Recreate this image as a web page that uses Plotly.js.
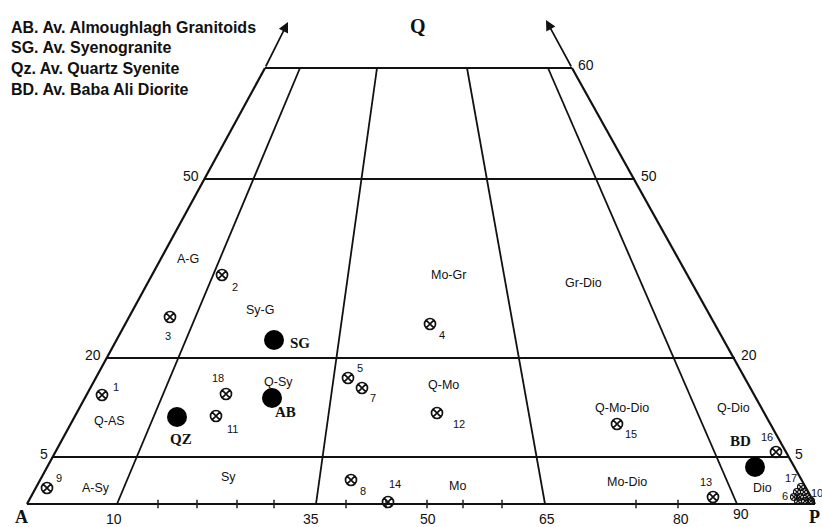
<!DOCTYPE html>
<html><head><meta charset="utf-8">
<script src="https://cdn.plot.ly/plotly-3.0.1.min.js"></script>
<style>html,body{margin:0;padding:0;background:#fff}#chart{width:822px;height:527px}</style>
</head><body><div id="chart"></div>
<script>
// ---- Diagram frame (diagram units) ----
const baseY = 504;
const qLevelLabels = ['5', '20', '50', '60'];
const qLevelY = [457, 358, 179, 68];
const qLeftX = [53, 106, 204, 265];
const qRightX = [789, 735, 635, 572];
const baseCorners = [27, 815];
const divLabels = ['10', '35', '65', '90'];
const divBaseX = [117, 316, 545, 737];
const divTopX = [300, 377, 467, 548];
const baseTickX = [158, 197, 237, 274, 346, 386, 427, 463, 502, 636, 678];
const baseLabels = ['10', '35', '50', '65', '80', '90'];
const baseLabelX = [114, 311, 428, 547, 681, 741];
const baseLabelY = [519, 519, 519, 519, 519, 514];

// ---- Field names ----
const fieldNames = ['A-G', 'Sy-G', 'Mo-Gr', 'Gr-Dio', 'Q-AS', 'Q-Sy', 'Q-Mo', 'Q-Mo-Dio', 'Q-Dio', 'A-Sy', 'Sy', 'Mo', 'Mo-Dio', 'Dio'];
const fieldX = [188, 260, 448, 583, 109, 278, 443, 622, 733, 96, 228, 457, 627, 762];
const fieldY = [259, 310, 275, 283, 421, 382, 385, 408, 408, 488, 477, 486, 482, 488];

// ---- Samples (⊗) ----
const sampleIds = ['1', '2', '3', '4', '5', '7', '18', '11', '12', '15', '16', '13', '8', '14', '9'];
const sampleX = [102, 222, 170, 430, 348, 362, 226, 216, 437, 617, 776, 713, 351, 388, 47];
const sampleY = [395, 275, 317, 324, 378, 388, 394, 416, 413, 424, 452, 497, 480, 502, 488];
const sampleLabelX = [116, 235, 168, 442, 360, 373, 218, 232, 459, 631, 767, 706, 363, 395, 59];
const sampleLabelY = [387, 287, 336, 335, 368, 398, 378, 429, 424, 434, 437, 482, 491, 484, 478];
// cluster of samples 6, 10, 17 near P corner
const clusterX = [801, 797, 804, 794, 800, 807, 798, 805, 811];
const clusterY = [487, 492, 492, 497, 497, 497, 501, 501, 501];
const clusterLabels = ['17', '6', '10'];
const clusterLabelX = [791, 785, 817];
const clusterLabelY = [478, 496, 493];

// ---- Averages (filled) ----
const avgNames = ['QZ', 'AB', 'SG', 'BD'];
const avgX = [177, 272, 274, 755];
const avgY = [417, 398, 340, 467];
const avgLabelX = [181, 285, 300, 740];
const avgLabelY = [439, 412, 343, 441];

const legendLines = ['AB. Av. Almoughlagh Granitoids', 'SG. Av. Syenogranite', 'Qz. Av. Quartz Syenite', 'BD. Av. Baba Ali Diorite'];

// ---- Build line segments ----
const lx = [], ly = [];
function seg(x0, y0, x1, y1) { lx.push(x0, x1, null); ly.push(y0, y1, null); }
seg(baseCorners[0], baseY, baseCorners[1], baseY);
seg(baseCorners[0], baseY, qLeftX[3], qLevelY[3]);
seg(baseCorners[1], baseY, qRightX[3], qLevelY[3]);
for (let i = 0; i < qLevelY.length; i++) seg(qLeftX[i], qLevelY[i], qRightX[i], qLevelY[i]);
const divX = [], divY = [];
for (let i = 0; i < divBaseX.length; i++) { divX.push(divBaseX[i], divTopX[i], null); divY.push(baseY, qLevelY[3], null); }

const traces = [
  {x: lx, y: ly, mode: 'lines', line: {color: '#111', width: 2.2}, hoverinfo: 'skip'},
  {x: divX, y: divY, mode: 'lines', line: {color: '#111', width: 1.8}, hoverinfo: 'skip'},
  {x: baseTickX, y: baseTickX.map(() => baseY), mode: 'markers', marker: {symbol: 'line-ns', size: 6, line: {color: '#222', width: 1.5}}, hoverinfo: 'skip'},
  {x: sampleX, y: sampleY, mode: 'markers', marker: {symbol: 'circle-x-open', size: 11, color: '#111', line: {color: '#111', width: 1.7}}, hoverinfo: 'skip'},
  {x: clusterX, y: clusterY, mode: 'markers', marker: {symbol: 'circle-x-open', size: 7, color: '#111', line: {color: '#111', width: 1.2}}, hoverinfo: 'skip'},
  {x: avgX, y: avgY, mode: 'markers', marker: {symbol: 'circle', size: 20, color: '#000'}, hoverinfo: 'skip'}
];

const ann = [];
function txt(t, x, y, size, family, extra) {
  ann.push(Object.assign({text: t, x: x, y: y, xref: 'x', yref: 'y', showarrow: false, font: {size: size, family: family, color: '#111'}}, extra || {}));
}
const sans = 'Liberation Sans, Arial, sans-serif';
const serif = 'Liberation Serif, Times New Roman, serif';
fieldNames.forEach((n, i) => txt(n, fieldX[i], fieldY[i], 12.5, sans));
sampleIds.forEach((n, i) => txt(n, sampleLabelX[i], sampleLabelY[i], 11, sans));
clusterLabels.forEach((n, i) => txt(n, clusterLabelX[i], clusterLabelY[i], 11, sans));
avgNames.forEach((n, i) => txt('<b>' + n + '</b>', avgLabelX[i], avgLabelY[i], 15, serif));
qLevelLabels.forEach((n, i) => {
  if (i < 3) txt(n, qLeftX[i] - 3, qLevelY[i] - 3, 14, sans, {xanchor: 'right'});
  txt(n, qRightX[i] + 4, qLevelY[i] - 3, 14, sans, {xanchor: 'left'});
});
baseLabels.forEach((n, i) => txt(n, baseLabelX[i], baseLabelY[i], 14, sans));
txt('<b>Q</b>', 418, 26, 20, serif);
txt('<b>A</b>', 21, 517, 18, serif);
txt('<b>P</b>', 822, 517, 18, serif, {xanchor: 'right'});
legendLines.forEach((n, i) => txt('<b>' + n + '</b>', 9, 27 + i * 20.7, 16, sans, {xanchor: 'left'}));
// arrows on the Q edges
ann.push({x: 288, y: 22, ax: qLeftX[3], ay: qLevelY[3], xref: 'x', yref: 'y', axref: 'x', ayref: 'y', showarrow: true, arrowhead: 2, arrowsize: 1.2, arrowwidth: 1.7, arrowcolor: '#111', text: ''});
ann.push({x: 546, y: 20, ax: qRightX[3], ay: qLevelY[3], xref: 'x', yref: 'y', axref: 'x', ayref: 'y', showarrow: true, arrowhead: 2, arrowsize: 1.2, arrowwidth: 1.7, arrowcolor: '#111', text: ''});

const layout = {
  width: 822, height: 527, margin: {l: 0, r: 0, t: 0, b: 0},
  paper_bgcolor: '#fff', plot_bgcolor: '#fff', showlegend: false,
  xaxis: {range: [0, 822], visible: false, fixedrange: true},
  yaxis: {range: [527, 0], visible: false, fixedrange: true},
  annotations: ann
};
Plotly.newPlot('chart', traces, layout, {staticPlot: true, displayModeBar: false});
</script></body></html>
